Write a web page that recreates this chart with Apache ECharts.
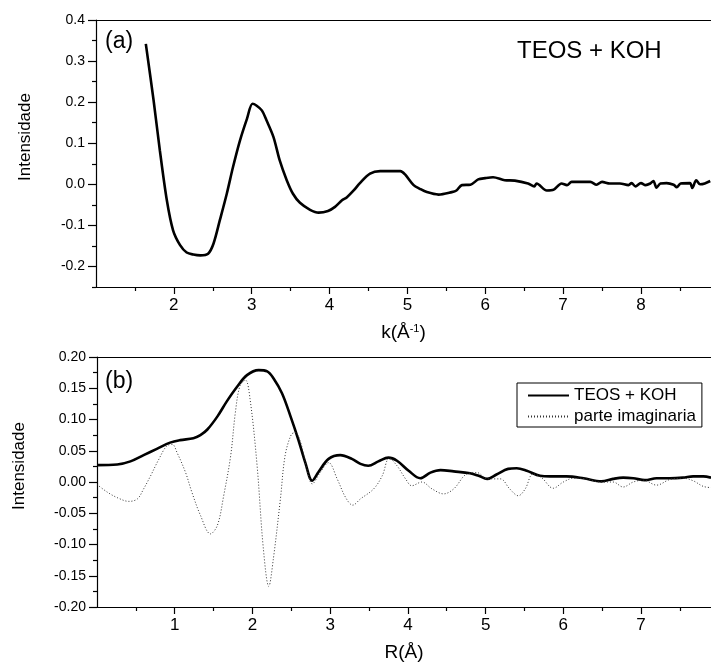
<!DOCTYPE html>
<html>
<head>
<meta charset="utf-8">
<script src="https://cdn.jsdelivr.net/npm/echarts@6/dist/echarts.min.js"></script>
<style>
  html, body { margin: 0; padding: 0; background: #fff; }
  #chart { width: 711px; height: 663px; }
</style>
</head>
<body>
<div id="chart"></div>
<script>
// painel (a): chi(k)
const kVals = [1.64, 1.74, 1.82, 1.91, 1.99, 2.08, 2.165, 2.25, 2.34, 2.44, 2.51, 2.59, 2.68, 2.76, 2.85, 2.94, 3.01, 3.06,
  3.13, 3.19, 3.28, 3.36, 3.45, 3.53, 3.62, 3.75, 3.86, 3.98, 4.07, 4.16, 4.22, 4.31, 4.39, 4.52, 4.65, 4.78, 4.91,
  4.97, 5.08, 5.16, 5.25, 5.40, 5.57, 5.63, 5.70, 5.81, 5.91, 6.00, 6.10, 6.25, 6.38, 6.55, 6.63, 6.66, 6.79, 6.88,
  6.98, 7.05, 7.11, 7.35, 7.43, 7.50, 7.60, 7.73, 7.84, 7.88, 7.93, 8.00, 8.06, 8.12, 8.16, 8.20, 8.25, 8.33, 8.42,
  8.46, 8.51, 8.63, 8.66, 8.71, 8.76, 8.82, 8.89];
const chiVals = [0.342, 0.204, 0.083, -0.039, -0.112, -0.148, -0.166, -0.171, -0.173, -0.169, -0.144, -0.088, -0.023,
  0.042, 0.107, 0.160, 0.196, 0.192, 0.180, 0.156, 0.115, 0.058, 0.010, -0.023, -0.045, -0.062, -0.069, -0.065,
  -0.055, -0.039, -0.032, -0.015, 0.003, 0.026, 0.032, 0.032, 0.032, 0.024, -0.002, -0.011, -0.019, -0.025, -0.019,
  -0.015, -0.002, -0.001, 0.012, 0.015, 0.017, 0.010, 0.009, 0.002, -0.005, 0.002, -0.015, -0.013, 0.002, -0.002,
  0.006, 0.006, -0.001, 0.006, 0.002, 0.002, -0.002, 0.003, -0.005, 0.003, -0.002, 0.002, 0.008, -0.008, 0.002,
  0.003, -0.001, -0.007, 0.002, 0.003, -0.009, 0.010, 0.000, 0.002, 0.008];

// painel (b): transformada de Fourier
const rVals = [0.00, 0.26, 0.43, 0.60, 0.77, 0.94, 1.07, 1.24, 1.33, 1.42, 1.55, 1.67, 1.80, 1.93, 2.08, 2.19, 2.27,
  2.38, 2.49, 2.59, 2.68, 2.77, 2.85, 2.98, 3.13, 3.28, 3.39, 3.49, 3.62, 3.75, 3.86, 4.01, 4.16, 4.29, 4.42, 4.59,
  4.80, 4.91, 5.02, 5.14, 5.29, 5.40, 5.53, 5.70, 5.83, 6.04, 6.26, 6.49, 6.64, 6.77, 6.90, 7.05, 7.20, 7.37, 7.54,
  7.67, 7.80, 7.90];
const magVals = [0.027, 0.028, 0.033, 0.043, 0.053, 0.063, 0.067, 0.070, 0.075, 0.084, 0.105, 0.129, 0.152, 0.171,
  0.179, 0.177, 0.166, 0.142, 0.105, 0.068, 0.031, 0.002, 0.016, 0.037, 0.043, 0.037, 0.029, 0.026, 0.033, 0.039,
  0.034, 0.018, 0.006, 0.015, 0.019, 0.017, 0.014, 0.010, 0.005, 0.012, 0.021, 0.022, 0.018, 0.010, 0.009, 0.009,
  0.006, 0.001, 0.005, 0.007, 0.006, 0.003, 0.006, 0.006, 0.007, 0.009, 0.009, 0.007];
const rImVals = [0.00, 0.13, 0.26, 0.41, 0.52, 0.60, 0.69, 0.79, 0.90, 0.97, 1.03, 1.14, 1.22, 1.33, 1.46, 1.55, 1.63,
  1.72, 1.78, 1.84, 1.91, 1.97, 2.06, 2.14, 2.21, 2.27, 2.36, 2.42, 2.50, 2.55, 2.62, 2.70, 2.77, 2.87, 2.98, 3.09,
  3.20, 3.29, 3.39, 3.56, 3.67, 3.76, 3.86, 3.97, 4.05, 4.18, 4.31, 4.46, 4.59, 4.76, 4.89, 5.02, 5.19, 5.31, 5.42,
  5.51, 5.61, 5.72, 5.87, 6.00, 6.13, 6.30, 6.47, 6.64, 6.77, 6.90, 7.03, 7.20, 7.37, 7.54, 7.67, 7.80, 7.90];
const imVals = [-0.004, -0.016, -0.025, -0.031, -0.027, -0.011, 0.010, 0.035, 0.058, 0.060, 0.047, 0.015, -0.016,
  -0.053, -0.083, -0.069, -0.022, 0.042, 0.111, 0.154, 0.163, 0.132, 0.026, -0.106, -0.167, -0.122, -0.027, 0.042,
  0.076, 0.079, 0.063, 0.021, -0.003, 0.015, 0.031, 0.005, -0.025, -0.037, -0.027, -0.011, 0.010, 0.038, 0.026,
  0.005, -0.006, 0.000, -0.011, -0.019, -0.011, 0.013, 0.015, 0.005, 0.005, -0.011, -0.022, -0.011, 0.013, 0.007,
  -0.010, 0.000, 0.006, 0.005, 0.000, 0.000, -0.008, 0.000, 0.003, -0.005, 0.004, 0.006, 0.002, -0.007, -0.009];

// marcas dos eixos
const kTicks = [2, 3, 4, 5, 6, 7, 8];
const kMinor = [1.5, 2.5, 3.5, 4.5, 5.5, 6.5, 7.5, 8.5];
const chiTicks = [-0.2, -0.1, 0, 0.1, 0.2, 0.3, 0.4];
const chiMinor = [-0.25, -0.15, -0.05, 0.05, 0.15, 0.25, 0.35];
const rTicks = [1, 2, 3, 4, 5, 6, 7];
const rMinor = [0.5, 1.5, 2.5, 3.5, 4.5, 5.5, 6.5, 7.5];
const ftTicks = [-0.2, -0.15, -0.1, -0.05, 0, 0.05, 0.1, 0.15, 0.2];
const ftMinor = [-0.175, -0.125, -0.075, -0.025, 0.025, 0.075, 0.125, 0.175];

const FONT = "'Liberation Sans', Arial, sans-serif";
const BLACK = "#000";
const zip = (xs, ys) => xs.map((x, i) => [x, ys[i]]);

function mainX(grid, min, max, ticks, name) {
  return {
    type: "value", gridIndex: grid, min, max, position: "bottom",
    axisLine: { show: true, onZero: false, lineStyle: { color: BLACK, width: 1.2 } },
    axisTick: { show: true, inside: false, length: 7, customValues: ticks, lineStyle: { color: BLACK, width: 1.2 } },
    axisLabel: { customValues: ticks, fontSize: 17, color: BLACK, fontFamily: FONT, margin: 10 },
    splitLine: { show: false },
    name, nameLocation: "middle", nameGap: 36,
    nameTextStyle: {
      fontSize: 19, color: BLACK, fontFamily: FONT,
      rich: { sup: { fontSize: 11, color: BLACK, fontFamily: FONT, padding: [0, 0, 9, 0] } },
    },
  };
}
function minorX(grid, min, max, ticks) {
  return {
    type: "value", gridIndex: grid, min, max, position: "bottom",
    axisLine: { show: false, onZero: false },
    axisTick: { show: true, length: 4, customValues: ticks, lineStyle: { color: BLACK, width: 1.2 } },
    axisLabel: { show: false }, splitLine: { show: false },
  };
}
function topX(grid, min, max) {
  return {
    type: "value", gridIndex: grid, min, max, position: "top",
    axisLine: { show: true, onZero: false, lineStyle: { color: BLACK, width: 1.2 } },
    axisTick: { show: false }, axisLabel: { show: false }, splitLine: { show: false },
  };
}
function mainY(grid, min, max, ticks, digits) {
  return {
    type: "value", gridIndex: grid, min, max, position: "left",
    axisLine: { show: true, onZero: false, lineStyle: { color: BLACK, width: 1.2 } },
    axisTick: { show: true, length: 8, customValues: ticks, lineStyle: { color: BLACK, width: 1.2 } },
    axisLabel: {
      customValues: ticks, fontSize: 14, color: BLACK, fontFamily: FONT, margin: 11,
      formatter: (v) => Number(v).toFixed(digits),
    },
    splitLine: { show: false },
  };
}
function minorY(grid, min, max, ticks) {
  return {
    type: "value", gridIndex: grid, min, max, position: "left",
    axisLine: { show: false, onZero: false },
    axisTick: { show: true, length: 4, customValues: ticks, lineStyle: { color: BLACK, width: 1.2 } },
    axisLabel: { show: false }, splitLine: { show: false },
  };
}

const chart = echarts.init(document.getElementById("chart"), null, { renderer: "canvas" });
chart.setOption({
  animation: false,
  backgroundColor: "#fff",
  textStyle: { fontFamily: FONT },
  grid: [
    { left: 96, top: 20, right: 0, height: 267 },
    { left: 97, top: 357, right: 0, height: 252 },
  ],
  xAxis: [
    mainX(0, 1, 8.9, kTicks, "k(Å{sup|-1})"),
    minorX(0, 1, 8.9, kMinor),
    topX(0, 1, 8.9),
    mainX(1, 0, 7.9, rTicks, "R(Å)"),
    minorX(1, 0, 7.9, rMinor),
    topX(1, 0, 7.9),
  ],
  yAxis: [
    mainY(0, -0.25, 0.4, chiTicks, 1),
    minorY(0, -0.25, 0.4, chiMinor),
    mainY(1, -0.2, 0.2, ftTicks, 2),
    minorY(1, -0.2, 0.2, ftMinor),
  ],
  legend: {
    data: ["TEOS + KOH", "parte imaginaria"],
    orient: "vertical",
    left: 517, top: 383,
    padding: [4, 6, 2, 10],
    itemWidth: 41, itemHeight: 17, itemGap: 4,
    itemStyle: { opacity: 0 },
    borderColor: BLACK, borderWidth: 1, borderRadius: 0,
    textStyle: { fontSize: 17, color: BLACK, fontFamily: FONT, lineHeight: 17 },
  },
  graphic: [
    { type: "text", left: 105, top: 30, style: { text: "(a)", fontSize: 23, fill: BLACK, fontFamily: FONT } },
    { type: "text", left: 517, top: 39, style: { text: "TEOS + KOH", fontSize: 24, fill: BLACK, fontFamily: FONT } },
    { type: "text", left: 105, top: 370, style: { text: "(b)", fontSize: 23, fill: BLACK, fontFamily: FONT } },
    { type: "text", x: 25, y: 137, rotation: Math.PI / 2,
      style: { text: "Intensidade", x: 0, y: 0, align: "center", verticalAlign: "middle", fontSize: 17, fill: BLACK, fontFamily: FONT } },
    { type: "text", x: 19, y: 466, rotation: Math.PI / 2,
      style: { text: "Intensidade", x: 0, y: 0, align: "center", verticalAlign: "middle", fontSize: 17, fill: BLACK, fontFamily: FONT } },
  ],
  series: [
    {
      name: "chi", type: "line", xAxisIndex: 0, yAxisIndex: 0,
      data: zip(kVals, chiVals), symbol: "none", smooth: 0.3,
      lineStyle: { color: BLACK, width: 2.6 },
    },
    {
      name: "TEOS + KOH", type: "line", xAxisIndex: 3, yAxisIndex: 2,
      data: zip(rVals, magVals), symbol: "none", smooth: 0.35,
      itemStyle: { color: BLACK },
      lineStyle: { color: BLACK, width: 2.6 },
    },
    {
      name: "parte imaginaria", type: "line", xAxisIndex: 3, yAxisIndex: 2,
      data: zip(rImVals, imVals), symbol: "none", smooth: 0.35,
      itemStyle: { color: "#333" },
      lineStyle: { color: "#333", width: 1, type: [1, 2] },
    },
  ],
});
</script>
</body>
</html>
